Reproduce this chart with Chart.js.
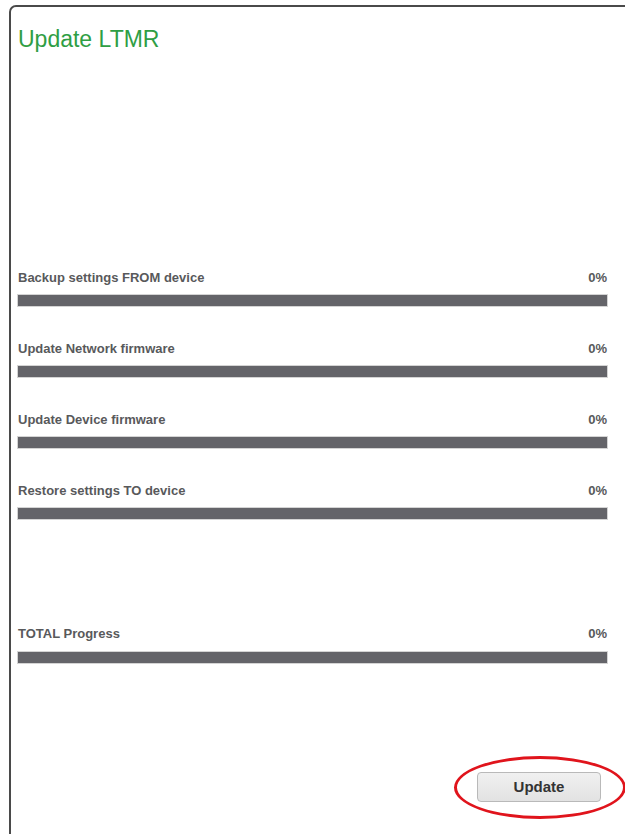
<!DOCTYPE html>
<html>
<head>
<meta charset="utf-8">
<script src="https://cdn.jsdelivr.net/npm/chart.js@4.4.1/dist/chart.umd.min.js"></script>
<style>
  body { margin: 0; width: 625px; height: 834px; background: #fff; overflow: hidden;
         font-family: "Liberation Sans", Arial, sans-serif; position: relative; }
  #panel { position: absolute; left: 9px; top: 5px; width: 640px; height: 860px;
           border: 2px solid #4a4a4a; border-radius: 7px; box-sizing: border-box; }
  #title { position: absolute; left: 18px; top: 26px; font-size: 23px; color: #2f9e44; }
  .label { position: absolute; left: 18px; font-size: 13px; font-weight: bold; color: #58595b; }
  .pct { position: absolute; right: 18px; font-size: 13px; font-weight: bold; color: #58595b; }
  .bar { position: absolute; left: 17px; width: 591px; height: 13px;
         border: 1px solid #d4d4d4; box-sizing: border-box; }
  #btn { position: absolute; left: 477px; top: 772px; width: 124px; height: 30px;
         border: 1px solid #b9b9b9; border-radius: 4px; box-sizing: border-box;
         background: linear-gradient(#f0f0f0, #e2e2e2); font-size: 15px; font-weight: bold;
         color: #333; text-align: center; line-height: 28px; }
  #ring { position: absolute; left: 454px; top: 756px; width: 172px; height: 63px;
          border: 3.5px solid #e0141c; border-radius: 50%; box-sizing: border-box; }
</style>
</head>
<body>
<div id="panel"></div>
<div id="title">Update LTMR</div>
<div id="rows"></div>
<div id="btn">Update</div>
<div id="ring"></div>

<script>
// progress steps and their values (%)
const steps = ['Backup settings FROM device', 'Update Network firmware', 'Update Device firmware', 'Restore settings TO device', 'TOTAL Progress'];
const progress = [0, 0, 0, 0, 0];
const labelTops = [270, 341, 412, 483, 626];
const barTops = [294, 365, 436, 507, 651];

const rows = document.getElementById('rows');

steps.forEach(function (step, i) {
  const label = document.createElement('div');
  label.className = 'label';
  label.style.top = labelTops[i] + 'px';
  label.textContent = step;
  rows.appendChild(label);

  const pct = document.createElement('div');
  pct.className = 'pct';
  pct.style.top = labelTops[i] + 'px';
  pct.textContent = progress[i] + '%';
  rows.appendChild(pct);

  const wrap = document.createElement('div');
  wrap.className = 'bar';
  wrap.style.top = barTops[i] + 'px';
  const canvas = document.createElement('canvas');
  wrap.appendChild(canvas);
  rows.appendChild(wrap);

  // one horizontal stacked bar: done part + remaining part
  new Chart(canvas.getContext('2d'), {
    type: 'bar',
    data: {
      labels: [step],
      datasets: [
        { label: 'Done', data: [progress[i]], backgroundColor: progress[i] > 0 ? '#3aa64a' : 'rgba(0,0,0,0)' },
        { label: 'Remaining', data: [100 - progress[i]], backgroundColor: '#646469' }
      ]
    },
    options: {
      indexAxis: 'y',
      responsive: true,
      maintainAspectRatio: false,
      animation: false,
      layout: { padding: 0 },
      datasets: { bar: { barPercentage: 1, categoryPercentage: 1, borderWidth: 0 } },
      plugins: { legend: { display: false }, tooltip: { enabled: false } },
      scales: {
        x: { stacked: true, min: 0, max: 100, display: false },
        y: { stacked: true, display: false }
      }
    }
  });
});
</script>
</body>
</html>
